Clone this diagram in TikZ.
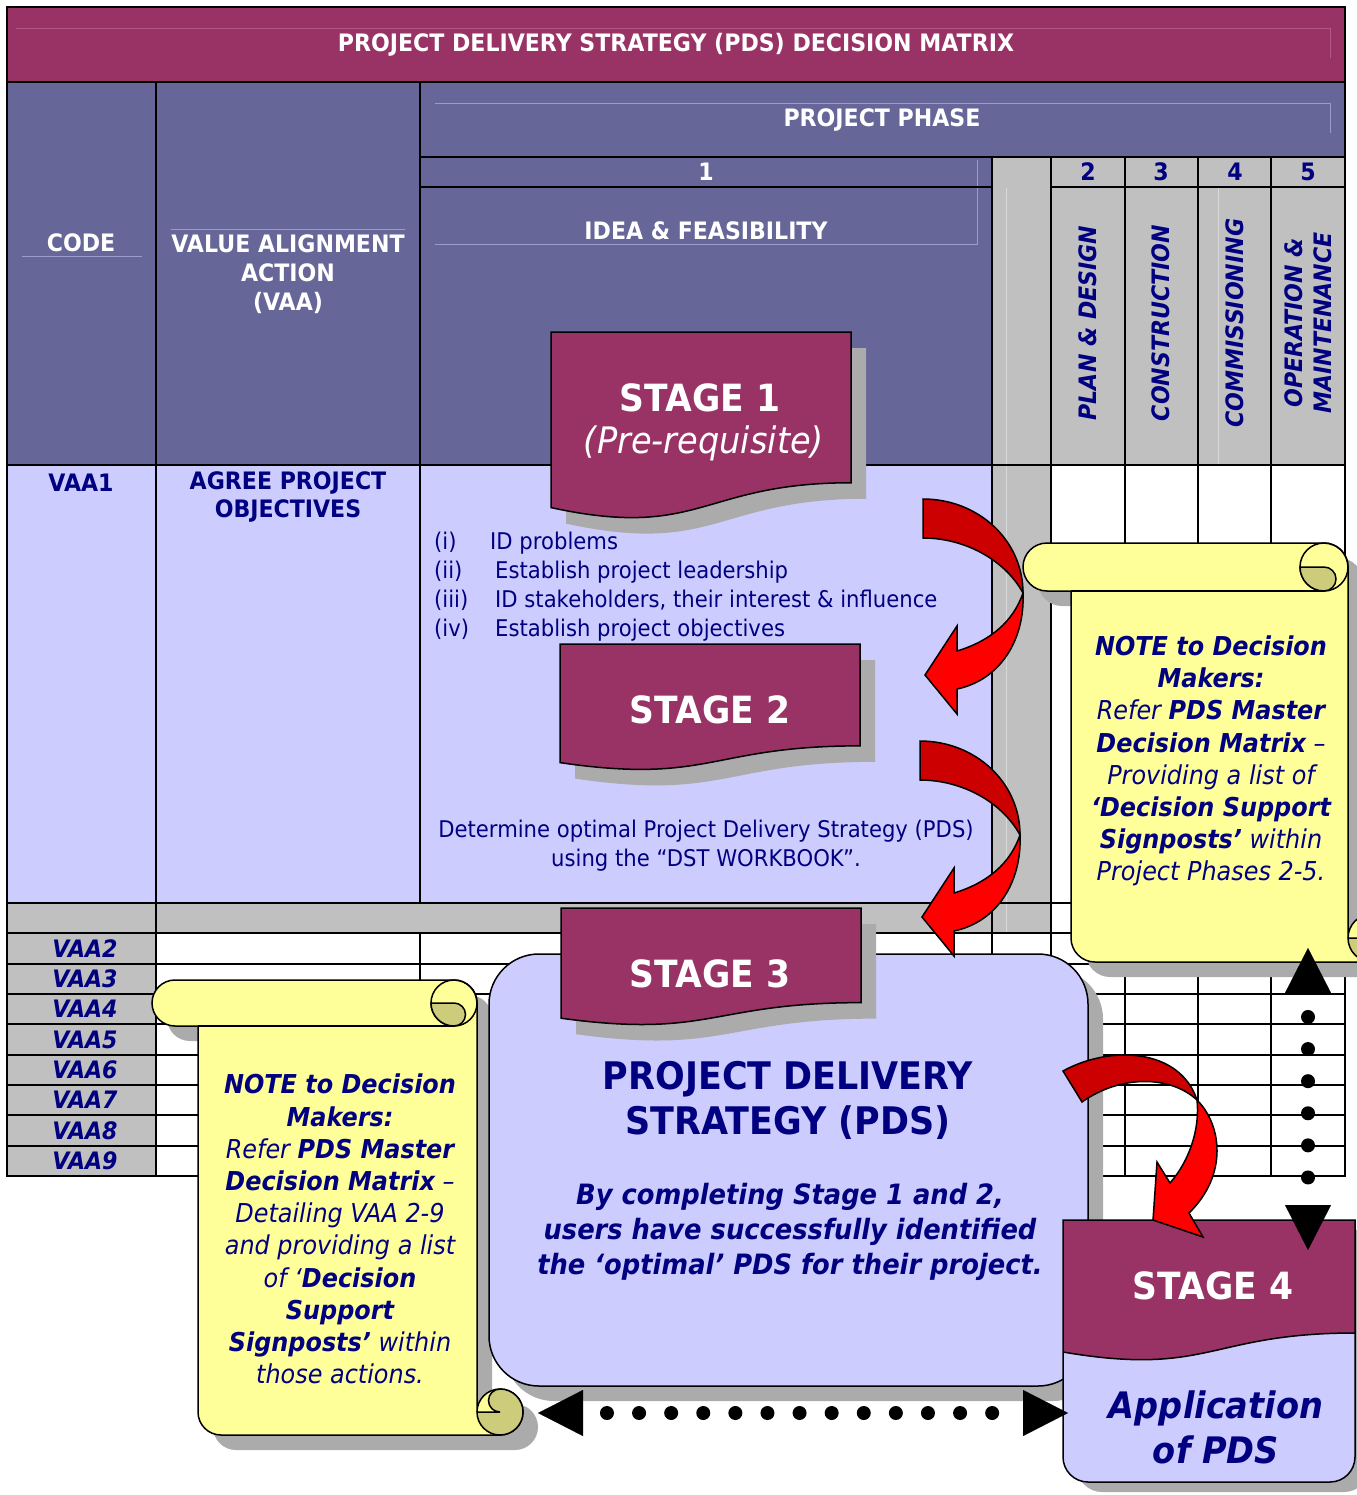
\documentclass[tikz,border=0pt]{standalone}
\usepackage{fontspec}
\setmainfont{DejaVu Sans}[FakeStretch=0.92]
\usetikzlibrary{arrows.meta}
\definecolor{purp}{HTML}{993366}
\definecolor{hblue}{HTML}{666699}
\definecolor{lblue}{HTML}{CCCCFF}
\definecolor{cgray}{HTML}{C0C0C0}
\definecolor{navy}{HTML}{000080}
\definecolor{yel}{HTML}{FFFF99}
\definecolor{dyel}{HTML}{CCCC7A}
\definecolor{rbright}{HTML}{FF0000}
\definecolor{rdark}{HTML}{CC0000}
\definecolor{shad}{HTML}{ABABAB}
\definecolor{faintb}{HTML}{9C9CCB}
\definecolor{faintp}{HTML}{B05A85}
\definecolor{faintg}{HTML}{D8D8D8}
\newcommand{\fsz}[2]{\fontsize{#1}{#2}\selectfont}
\tikzset{
 grid/.style={draw=black, line width=2pt},
 shapeline/.style={draw=black, line width=1.5pt},
 hw/.style={font=\bfseries\fsz{24}{29}, text=white, align=center, inner sep=0pt},
 hn/.style={font=\bfseries\fsz{24}{28}, text=navy, align=center, inner sep=0pt},
 hni/.style={font=\bfseries\itshape\fsz{24}{29}, text=navy, align=center, inner sep=0pt},
 lst/.style={font=\fsz{23}{29}, text=navy, inner sep=0pt},
 stg/.style={font=\bfseries\fsz{37.5}{42}, text=white, inner sep=0pt},
 stgi/.style={font=\itshape\fsz{36.5}{42}, text=white, inner sep=0pt},
 note/.style={font=\itshape\fsz{26}{32.2}, text=navy, align=center, inner sep=0pt},
 dotarrow/.style={line width=14pt, dash pattern=on 0pt off 32.1pt, dash phase=8.1pt, line cap=round,
   {Triangle[length=45pt,width=46pt,line width=0.1pt]}-{Triangle[length=45pt,width=46pt,line width=0.1pt]}}
}
\newcommand{\stagebanner}[3]{%
  \fill[shad] ({#1+15},{#2+16}) -- ++(300,0) -- ++(0,{0.802*#3})
    .. controls ({#1+165},{#2+16+0.802*#3}) and ({#1+165},{#2+16+1.1075*#3}) .. ({#1+15},{#2+16+0.934*#3}) -- cycle;
  \filldraw[fill=purp, shapeline] (#1,#2) -- ++(300,0) -- ++(0,{0.802*#3})
    .. controls ({#1+150},{#2+0.802*#3}) and ({#1+150},{#2+1.1075*#3}) .. ({#1},{#2+0.934*#3}) -- cycle;
}
\newcommand{\scrollnote}[5]{%
 \begin{scope}[shift={(#1,#2)}]
  \pgfmathsetmacro{\sW}{#3}\pgfmathsetmacro{\sH}{#4}\pgfmathsetmacro{\sC}{#5}
  \pgfmathsetmacro{\sCh}{#5/2}\pgfmathsetmacro{\sCq}{#5/4}\pgfmathsetmacro{\sCf}{1.5*#5}
  \pgfmathsetmacro{\sAa}{#3-1.5*#5}\pgfmathsetmacro{\sAb}{#3-#5}\pgfmathsetmacro{\sAc}{#3-#5/2}\pgfmathsetmacro{\sAd}{#3-2*#5}
  \pgfmathsetmacro{\sHb}{#4-#5/2}
  \begin{scope}[shift={(15,15)}]
   \fill[shad] (\sC,\sHb) -- (\sC,\sC) -- (\sCh,\sC) arc[start angle=90,end angle=270,radius=\sCh]
     -- (\sAa,0) arc[start angle=270,end angle=360,radius=\sCh] -- (\sAb,\sHb)
     arc[start angle=180,end angle=450,radius=\sCh] -- (\sCf,\sH) arc[start angle=90,end angle=180,radius=\sCh] -- cycle;
  \end{scope}
  \filldraw[fill=yel, shapeline] (\sC,\sHb) -- (\sC,\sC) -- (\sCh,\sC) arc[start angle=90,end angle=270,radius=\sCh]
     -- (\sAa,0) arc[start angle=270,end angle=360,radius=\sCh] -- (\sAb,\sHb)
     arc[start angle=180,end angle=450,radius=\sCh] -- (\sCf,\sH) arc[start angle=90,end angle=180,radius=\sCh] -- cycle;
  \draw[shapeline] (\sC,\sC) -- (\sAa,\sC);
  \draw[shapeline] (\sAa,\sCh) circle[radius=\sCh];
  \filldraw[fill=dyel, shapeline] (\sAd,\sCh) -- (\sAa,\sCh) arc[start angle=270,end angle=450,radius=\sCq]
     arc[start angle=90,end angle=180,radius=\sCh] -- cycle;
  \filldraw[fill=dyel, shapeline] (\sAc,\sHb) -- (\sAb,\sHb) arc[start angle=180,end angle=-90,radius=\sCh]
     arc[start angle=-90,end angle=-270,radius=\sCq] -- cycle;
 \end{scope}
}
\newcommand{\redarrow}[2]{%
 \begin{scope}[shift={(#1,#2)}]
  \filldraw[fill=rdark, shapeline] (923,499) .. controls (978,499) and (1023,540) .. (1023,593)
     .. controls (1005,560) and (965,538) .. (923,538) -- cycle;
  \filldraw[fill=rbright, shapeline] (1023,593) .. controls (1025,640) and (1000,680) .. (957,689)
     -- (957,714) -- (925,675) -- (957,626) -- (957,651) .. controls (990,641) and (1013,622) .. (1023,593) -- cycle;
 \end{scope}
}
\begin{document}
\begin{tikzpicture}[x=1pt,y=-1pt,line join=miter]
\useasboundingbox (0,0) rectangle (1356,1495);
\fill[white] (0,0) rectangle (1356,1495);
% ---------- table fills
\fill[purp] (7,7) rectangle (1345,82);
\fill[hblue] (7,82) rectangle (1345,157);
\fill[hblue] (7,157) rectangle (992,465);
\fill[cgray] (992,157) rectangle (1345,465);
\fill[cgray] (992,465) rectangle (1051,933);
\fill[lblue] (7,465) rectangle (992,903);
\fill[cgray] (7,903) rectangle (992,933);
\fill[cgray] (7,933) rectangle (156,1176);
% ---------- faint inner lines
\draw[faintp, line width=1pt] (16,29) -- (1330,29) -- (1330,58);
\draw[faintb, line width=1pt] (435,104) -- (1330,104) -- (1330,133);
\draw[faintb, line width=1pt] (22,257) -- (142,257);
\draw[faintb, line width=1pt] (171,230) -- (405,230);
\draw[faintb, line width=1pt] (435,245) -- (977,245) -- (977,160);
\draw[faintg, line width=1pt] (1006,188) -- (1006,932);
\draw[faintg, line width=1pt] (1218,188) -- (1218,464);
% ---------- grid
\draw[grid] (7,7) rectangle (1345,1176);
\draw[grid] (7,82) -- (1345,82);
\draw[grid] (156,82) -- (156,1176);
\draw[grid] (420,82) -- (420,903) (420,933) -- (420,1176);
\draw[grid] (420,157) -- (1345,157);
\draw[grid] (420,187) -- (992,187) (1051,187) -- (1345,187);
\foreach \x in {992,1051,1125,1198,1271} \draw[grid] (\x,157) -- (\x,1176);
\draw[grid] (7,465) -- (1345,465);
\foreach \y in {903,933,964,994,1024,1055,1085,1115,1146} \draw[grid] (7,\y) -- (1345,\y);
% ---------- header texts
\node[hw] (title) at (676,45) {PROJECT DELIVERY STRATEGY (PDS) DECISION MATRIX};
\node[hw] (code) at (81,243) {CODE};
\node[hw] (vaahead) at (288,274) {VALUE ALIGNMENT\\ACTION\\(VAA)};
\node[hw] (phase) at (882,120) {PROJECT PHASE};
\node[hw] (p1) at (706,172) {1};
\node[hw] (idea) at (706,231) {IDEA \& FEASIBILITY};
\node[hn] (p2) at (1088,172) {2};
\node[hn] (p3) at (1161,172) {3};
\node[hn] (p4) at (1235,172) {4};
\node[hn] (p5) at (1308,172) {5};
\node[hni, rotate=90] (lab2) at (1088,323) {PLAN \& DESIGN};
\node[hni, rotate=90] (lab3) at (1161,323) {CONSTRUCTION};
\node[hni, rotate=90] (lab4) at (1235,323) {COMMISSIONING};
\node[hni, rotate=90] (lab5) at (1308,323) {OPERATION \&\\MAINTENANCE};
% ---------- row texts
\node[hn] (vaa1) at (81,483) {VAA1};
\node[hn] (agree) at (288,497) {AGREE PROJECT\\OBJECTIVES};
\node[lst, anchor=base west] (n1) at (434,549) {(i)};
\node[lst, anchor=base west] (t1) at (490,549) {ID problems};
\node[lst, anchor=base west] (n2) at (434,578) {(ii)};
\node[lst, anchor=base west] (t2) at (495,578) {Establish project leadership};
\node[lst, anchor=base west] (n3) at (434,607) {(iii)};
\node[lst, anchor=base west] (t3) at (495,607) {ID stakeholders, their interest \& influence};
\node[lst, anchor=base west] (n4) at (434,636) {(iv)};
\node[lst, anchor=base west] (t4) at (495,636) {Establish project objectives};
\node[lst, align=center] (det) at (706,846) {Determine optimal Project Delivery Strategy (PDS)\\using the “DST WORKBOOK”.};
\foreach \k/\yy in {2/948.5,3/979,4/1009,5/1039.5,6/1070,7/1100,8/1130.5,9/1161}
  \node[hni] (vaa\k) at (85,\yy) {VAA\k};
% ---------- stage 1 and 2
\stagebanner{551}{332}{188}
\node[stg] (s1) at (700,398) {STAGE 1};
\node[stgi] (s1b) at (704,443) {(Pre-requisite)};
\stagebanner{560}{644}{127}
\node[stg] (s2) at (710,710) {STAGE 2};
% ---------- right scroll
\scrollnote{1023}{543}{373}{419}{48}
\node[note] (note1) at (1211,761) {\textbf{NOTE to Decision}\\\textbf{Makers:}\\Refer \textbf{PDS Master}\\\textbf{Decision Matrix} –\\Providing a list of\\\textbf{‘Decision Support}\\\textbf{Signposts’} within\\Project Phases 2-5.};
% ---------- left scroll
\scrollnote{152}{980}{371}{455}{46}
\node[note] (note2) at (340,1229) {\textbf{NOTE to Decision}\\\textbf{Makers:}\\Refer \textbf{PDS Master}\\\textbf{Decision Matrix} –\\Detailing VAA 2-9\\and providing a list\\of ‘\textbf{Decision}\\\textbf{Support}\\\textbf{Signposts’} within\\those actions.};
% ---------- stage 3 box
\fill[shad, rounded corners=50pt] (504,969) rectangle (1103,1401);
\filldraw[fill=lblue, shapeline, rounded corners=50pt] (489,954) rectangle (1088,1386);
\stagebanner{561}{908}{118}
\node[stg] (s3) at (710,974) {STAGE 3};
\node[font=\bfseries\fsz{38}{45}, text=navy, align=center, inner sep=0pt] (pds) at (788,1100) {PROJECT DELIVERY\\STRATEGY (PDS)};
\node[font=\bfseries\itshape\fsz{28}{35}, text=navy, align=center, inner sep=0pt] (byc) at (790,1232) {By completing Stage 1 and 2,\\users have successfully identified\\the ‘optimal’ PDS for their project.};
% ---------- red arrows 1 and 2
\redarrow{0}{0}
\redarrow{-3}{242}
% ---------- stage 4
\begin{scope}[shift={(14,10)}]
\fill[shad] (1063,1220) -- (1355,1220) -- (1355,1457) arc[start angle=0,end angle=90,radius=25] -- (1088,1482) arc[start angle=90,end angle=180,radius=25] -- cycle;
\end{scope}
\fill[lblue] (1063,1220) -- (1355,1220) -- (1355,1457) arc[start angle=0,end angle=90,radius=25] -- (1088,1482) arc[start angle=90,end angle=180,radius=25] -- cycle;
\fill[purp] (1063,1220) -- (1355,1220) -- (1355,1333) .. controls (1209,1333) and (1209,1377) .. (1063,1352) -- cycle;
\draw[shapeline] (1355,1333) .. controls (1209,1333) and (1209,1377) .. (1063,1352);
\draw[shapeline] (1063,1220) -- (1355,1220) -- (1355,1457) arc[start angle=0,end angle=90,radius=25] -- (1088,1482) arc[start angle=90,end angle=180,radius=25] -- cycle;
\node[stg] (s4) at (1213,1286) {STAGE 4};
\node[font=\bfseries\itshape\fsz{36.5}{45}, text=navy, align=center, inner sep=0pt] (app) at (1216,1427) {Application\\of PDS};
% ---------- red arrow 3
\filldraw[fill=rdark, shapeline] (1063,1071) .. controls (1110,1045) and (1180,1048) .. (1197,1100)
   .. controls (1170,1075) and (1120,1075) .. (1082,1102) -- cycle;
\filldraw[fill=rbright, shapeline] (1197,1100) .. controls (1222,1125) and (1228,1175) .. (1189,1213)
   -- (1203,1237) -- (1153,1220) -- (1157,1162) -- (1170,1183) .. controls (1190,1160) and (1200,1128) .. (1197,1100) -- cycle;
% ---------- dotted connectors
\coordinate (hl) at (538,1413);
\coordinate (hr) at (1068,1413);
\coordinate (vt) at (1308,948);
\coordinate (vb) at (1308,1250);
\draw[dotarrow] (hl) -- (hr);
\draw[dotarrow] (vt) -- (vb);
\end{tikzpicture}
\end{document}
